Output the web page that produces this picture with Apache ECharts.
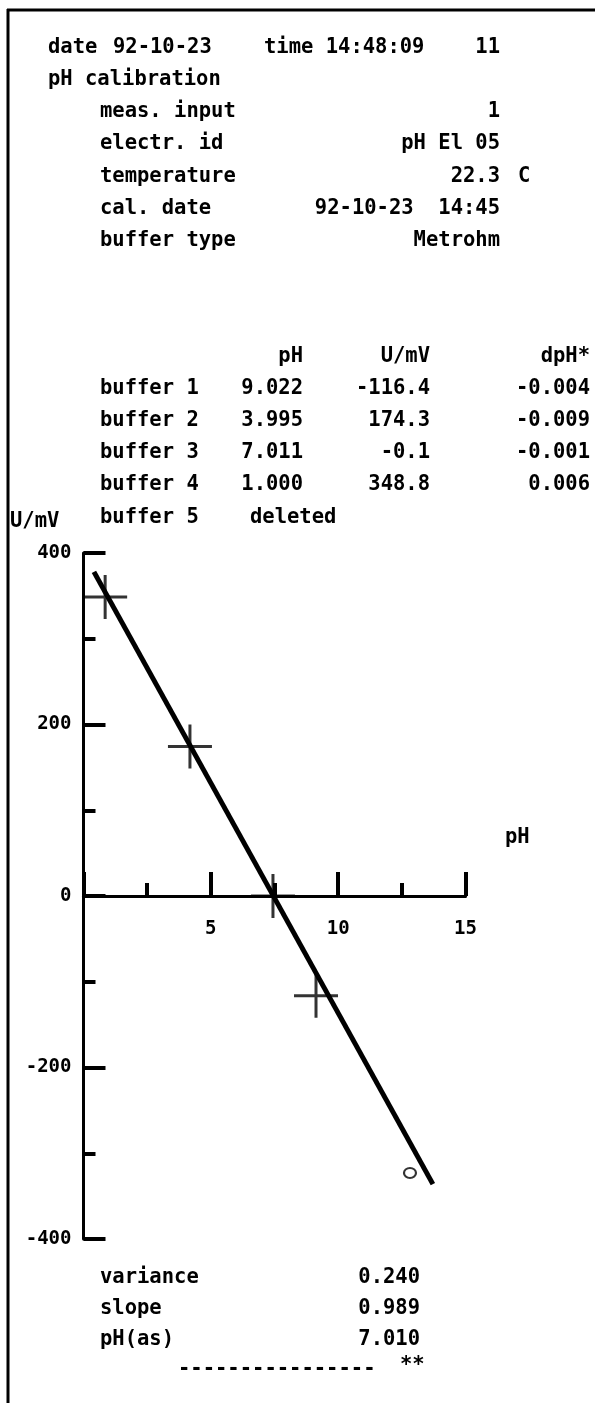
<!DOCTYPE html>
<html><head><meta charset="utf-8">
<script src="https://cdn.jsdelivr.net/npm/echarts@6/dist/echarts.min.js"></script>
<style>html,body{margin:0;padding:0;background:#fff}#c{width:595px;height:1403px}</style>
</head><body><div id="c"></div>
<script>
// ---- printed report values ----
const reportDateLabel = 'date';
const reportDate = '92-10-23';
const reportTime = 'time 14:48:09';
const reportNo = '11';
const reportTitle = 'pH calibration';
const headerLabels = ['meas. input', 'electr. id', 'temperature', 'cal. date', 'buffer type'];
const headerValues = ['1', 'pH El 05', '22.3', '92-10-23  14:45', 'Metrohm'];
const tableColumns = ['pH', 'U/mV', 'dpH*'];
const bufferNames = ['buffer 1', 'buffer 2', 'buffer 3', 'buffer 4', 'buffer 5'];
const bufferPH = ['9.022', '3.995', '7.011', '1.000'];
const bufferU = ['-116.4', '174.3', '-0.1', '348.8'];
const bufferDpH = ['-0.004', '-0.009', '-0.001', '0.006'];
const statLabels = ['variance', 'slope', 'pH(as)'];
const statValues = ['0.240', '0.989', '7.010'];

// ---- plotted marks ----
const pointPH = [0.85, 4.18, 7.44, 9.13];
const pointU = [348.8, 174.3, -0.1, -116.4];
const fitPH = [0.41, 13.72];
const fitU = [378, -336];
const deletedPH = [12.82];
const deletedU = [-323];
const xAxisName = 'pH';
const yAxisName = 'U/mV';

const FONT = "'DejaVu Sans Mono', monospace";
const FS = 20.5;
function txt(text, x, y, align) {
  return {
    type: 'text', silent: true,
    style: {
      text: text, x: x, y: y, fill: '#000',
      font: 'bold ' + FS + 'px ' + FONT,
      align: align || 'left', verticalAlign: 'middle',
      textAlign: align || 'left', textVerticalAlign: 'middle'
    }
  };
}

const g = [];
// frame
g.push({type: 'line', silent: true, shape: {x1: 7, y1: 10, x2: 595, y2: 10}, style: {stroke: '#000', lineWidth: 3}});
g.push({type: 'line', silent: true, shape: {x1: 8, y1: 9, x2: 8, y2: 1403}, style: {stroke: '#000', lineWidth: 3}});
// header
g.push(txt(reportDateLabel, 48, 48));
g.push(txt(reportDate, 113, 48));
g.push(txt(reportTime, 264, 48));
g.push(txt(reportNo, 500, 48, 'right'));
g.push(txt(reportTitle, 48, 80));
const rowY = [112, 144, 177, 209, 241];
headerLabels.forEach((l, i) => {
  g.push(txt(l, 100, rowY[i]));
  g.push(txt(headerValues[i], 500, rowY[i], 'right'));
});
g.push(txt('C', 518, 177));
// table
const colRight = [303, 430, 590];
tableColumns.forEach((c, i) => g.push(txt(c, colRight[i], 357, 'right')));
const bufY = [389, 421, 453, 485, 518];
bufferNames.forEach((b, i) => {
  g.push(txt(b, 100, bufY[i]));
  if (i < bufferPH.length) {
    g.push(txt(bufferPH[i], colRight[0], bufY[i], 'right'));
    g.push(txt(bufferU[i], colRight[1], bufY[i], 'right'));
    g.push(txt(bufferDpH[i], colRight[2], bufY[i], 'right'));
  } else {
    g.push(txt('deleted', 250, bufY[i]));
  }
});
// axis names
g.push(txt(yAxisName, 10, 522));
g.push(txt(xAxisName, 505, 838));
// statistics
const statY = [1278, 1309, 1340];
statLabels.forEach((s, i) => {
  g.push(txt(s, 100, statY[i]));
  g.push(txt(statValues[i], 420, statY[i], 'right'));
});
g.push(txt('----------------', 178, 1370));
g.push(txt('**', 400, 1366));

const chart = echarts.init(document.getElementById('c'), null, {renderer: 'canvas'});
const labelStyle = {color: '#000', fontFamily: FONT, fontSize: 19, fontWeight: 'bold'};
chart.setOption({
  animation: false,
  backgroundColor: '#fff',
  grid: {left: 83.5, top: 553, width: 382, height: 686, containLabel: false},
  xAxis: {
    type: 'value', min: 0, max: 15, interval: 5,
    position: 'bottom', offset: -343,
    axisLine: {onZero: false, lineStyle: {color: '#000', width: 3}},
    axisTick: {inside: true, length: 24, lineStyle: {color: '#000', width: 4}},
    minorTick: {show: true, splitNumber: 2, length: 13, lineStyle: {color: '#000', width: 4}},
    splitLine: {show: false}, minorSplitLine: {show: false},
    axisLabel: Object.assign({margin: 24, formatter: v => (v === 0 ? '' : String(v))}, labelStyle)
  },
  yAxis: {
    type: 'value', min: -400, max: 400, interval: 200,
    axisLine: {onZero: true, lineStyle: {color: '#000', width: 3}},
    axisTick: {inside: true, length: 22, lineStyle: {color: '#000', width: 4}},
    minorTick: {show: true, splitNumber: 2, length: 12, lineStyle: {color: '#000', width: 4}},
    splitLine: {show: false}, minorSplitLine: {show: false},
    axisLabel: Object.assign({margin: 12}, labelStyle)
  },
  series: [
    {
      type: 'line', symbol: 'none', silent: true, z: 2,
      lineStyle: {color: '#000', width: 5},
      data: fitPH.map((x, i) => [x, fitU[i]])
    },
    {
      type: 'scatter', silent: true, z: 3,
      symbol: 'path://M20.5,0h3v44h-3zM0,20.5h44v3h-44z',
      symbolSize: 44,
      itemStyle: {color: '#000'},
      data: pointPH.map((x, i) => [x, pointU[i]])
    },
    {
      type: 'scatter', silent: true, z: 3,
      symbol: 'emptyCircle', symbolSize: [12, 10],
      itemStyle: {color: '#000', borderColor: '#000', borderWidth: 2.5},
      data: deletedPH.map((x, i) => [x, deletedU[i]])
    }
  ],
  graphic: g
});
</script></body></html>
